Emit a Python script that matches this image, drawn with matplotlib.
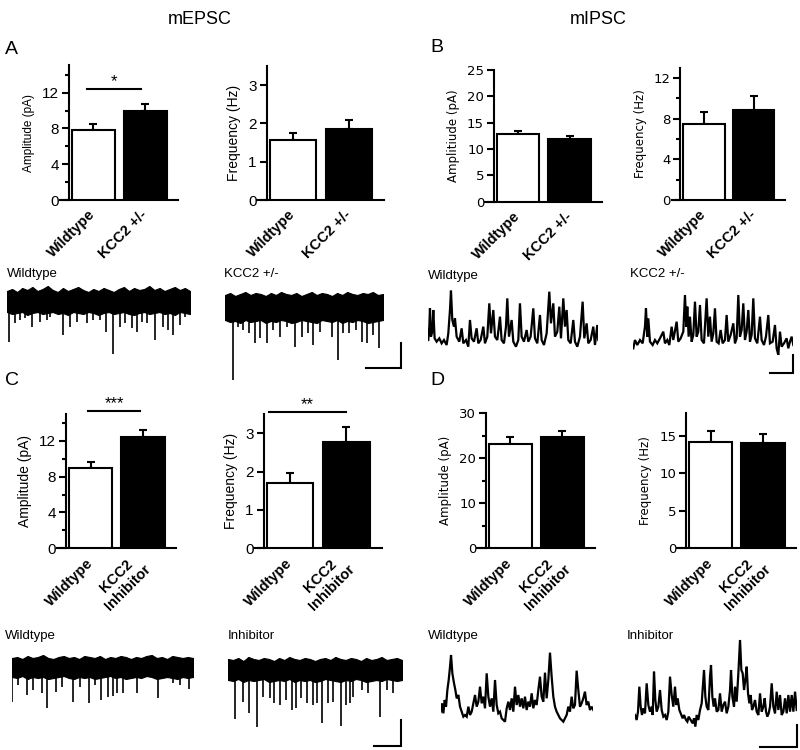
import numpy as np
import matplotlib
matplotlib.use("Agg")
import matplotlib.pyplot as plt

plt.rcParams['font.family'] = ['Liberation Sans', 'DejaVu Sans']

W, H = 800, 750

# ---------------- bar chart data ----------------
GROUPS_AB = ["Wildtype", "KCC2 +/-"]
GROUPS_CD = ["Wildtype", "KCC2\nInhibitor"]

A_AMP = [7.85, 10.0];   A_AMP_ERR = [0.65, 0.75]
A_FREQ = [1.57, 1.86];  A_FREQ_ERR = [0.19, 0.23]
B_AMP = [12.8, 11.85];  B_AMP_ERR = [0.6, 0.6]
B_FREQ = [7.45, 8.9];   B_FREQ_ERR = [1.2, 1.3]
C_AMP = [8.95, 12.4];   C_AMP_ERR = [0.7, 0.8]
C_FREQ = [1.71, 2.78];  C_FREQ_ERR = [0.25, 0.37]
D_AMP = [23.1, 24.6];   D_AMP_ERR = [1.6, 1.3]
D_FREQ = [14.1, 13.95]; D_FREQ_ERR = [1.5, 1.3]

# ---------------- mEPSC traces (events: time, amplitude pA) ----------------
AWT_EV_T = [2.3, 8, 13, 18, 24.7, 33, 39.7, 43, 56.3, 63, 70.3, 79.7, 86.3, 93, 99, 106.3,
            113, 118, 124.7, 129.7, 134.7, 139.7, 148, 156.3, 161.3, 166.3, 173, 178]
AWT_EV_A = [-41.7, -23.3, -20, -18.3, -26.7, -21.7, -20, -16.7, -35, -26.7, -21.7, -23.3, -20, -20,
            -31.7, -54, -26.7, -23.3, -28.3, -31.7, -21.7, -23.3, -40, -26.7, -30, -35, -25, -16.7]
AWT_HI = [9, 11, 8, 12, 10, 13, 9, 11, 14, 10, 8, 12, 9, 11, 13, 10, 8, 11, 9, 12, 10, 8, 11, 13,
          9, 12, 10, 11, 14, 10, 12, 9, 11, 13, 10, 12, 9]
AWT_LO = [-12, -14, -13, -12, -15, -13, -12, -14, -13, -12, -14, -13, -15, -12, -13, -14, -12, -13,
          -15, -13, -12, -14, -13, -12, -14, -15, -13, -12, -14, -13, -12, -14, -13, -15, -12, -13, -14]

AKO_EV_T = [8.3, 13.3, 18.3, 24.3, 30, 35, 41.7, 48.3, 55, 62.3, 70, 76.7, 83.3, 88.3, 95, 106.7,
            113.3, 118.3, 124.3, 131, 136.7, 141.7, 148.3, 154.3]
AKO_EV_A = [-73, -19.7, -23, -26.3, -36.3, -31.3, -36.3, -23, -29.7, -19.7, -39.7, -29.7, -26.3, -38,
            -24.7, -29.7, -53, -26.3, -26.3, -23, -34.7, -36.3, -28, -41.3]
AKO_HI = [12, 14, 11, 13, 15, 12, 14, 13, 11, 14, 12, 15, 13, 12, 14, 11, 13, 15, 12, 14, 13, 11,
          14, 12, 15, 13, 12, 14, 13, 15, 12, 13]
AKO_LO = [-13, -15, -14, -16, -13, -15, -14, -13, -16, -14, -15, -13, -14, -16, -15, -13, -14, -15,
          -16, -13, -14, -15, -13, -16, -14, -15, -13, -14, -16, -15, -14, -13]

CWT_EV_T = [0.3, 6.3, 15.3, 21.3, 29.7, 34.7, 44, 49.7, 60.7, 68, 77.3, 83, 88.7, 96.3, 101.3, 104.7,
            110.7, 124.7, 145.7, 161.3, 168, 177.3]
CWT_EV_A = [-34.7, -18, -28, -23, -26.3, -41.3, -24.7, -19.7, -34.7, -19.7, -35.7, -18, -33, -30.3,
            -29, -26.3, -26.3, -25.7, -31.3, -16.3, -18, -22.3]
CWT_HI = [9, 10, 8, 11, 9, 10, 12, 9, 8, 10, 11, 9, 10, 8, 11, 10, 9, 11, 8, 10, 9, 11, 10, 8, 10,
          9, 11, 12, 9, 10, 8, 11, 10, 9, 10, 9]
CWT_LO = [-10, -11, -9, -12, -10, -11, -10, -12, -11, -10, -9, -11, -12, -10, -11, -10, -12, -11,
          -10, -9, -11, -10, -12, -11, -10, -11, -9, -10, -12, -11, -10, -11, -12, -10, -11, -10]

CIN_EV_T = [7, 14.7, 21.3, 28.7, 35.3, 42, 46, 52, 57.7, 63.7, 68, 73, 78.7, 85.3, 88.7, 94, 100.3,
            105.3, 112.7, 118, 122, 125.3, 133.7, 140.3, 152, 158.7, 165.3]
CIN_EV_A = [-50.3, -32.7, -43.7, -58.3, -27.7, -29.3, -34.3, -36, -31, -41, -39.3, -29.3, -34.3, -36,
            -34.3, -54.3, -34.3, -32.7, -57, -36, -34.3, -27.7, -21, -24.3, -47.7, -21, -24.3]
CIN_HI = [10, 9, 11, 8, 12, 10, 9, 11, 10, 8, 11, 9, 12, 10, 9, 11, 10, 8, 10, 11, 9, 12, 10, 9, 11,
          10, 8, 11, 9, 10, 12, 9, 10, 11, 9]
CIN_LO = [-11, -12, -10, -13, -11, -12, -11, -10, -13, -12, -11, -12, -10, -13, -11, -12, -11, -13,
          -12, -10, -11, -12, -13, -11, -12, -10, -11, -13, -12, -11, -12, -10, -11, -12, -11]

# ---------------- mIPSC traces (time, current) ----------------
BWT_T = [85, 88, 90, 93, 97, 100, 104, 110, 118, 125, 132, 140, 145, 150, 153, 157, 162, 165, 170,
         178, 185, 190, 198, 205, 210, 215, 222, 230, 235, 242, 250, 255, 262, 268, 273, 280, 285,
         292, 300, 305, 312, 318, 322, 327, 335, 340, 348, 355, 360, 365, 372, 380, 385, 392, 400,
         405, 412, 420, 425, 432, 440, 448, 453, 460, 465, 472, 478, 483, 490, 495, 500, 505, 512,
         520, 525, 532, 540, 548, 553, 560, 565, 572, 580, 585, 592, 595]
BWT_I = [5, 45, 100, 15, 30, 95, 10, 0, 10, -5, 5, -10, 25, 95, 153, 65, 45, 70, 15, 0, 40, -5, 5,
         -15, 65, 10, 0, 40, -5, 5, 45, -5, 15, 115, 25, 95, 15, 5, 75, 5, -5, 45, 130, 15, 65, 0,
         -15, 5, 115, 15, 0, 35, 0, 15, 100, 10, -5, 80, 5, -10, 25, 150, 55, 115, 15, 30, 105, 10,
         130, 45, 95, 5, -5, 65, 0, -15, 15, 120, 10, 55, -5, 5, 45, -10, 50, 5]

BKO_T = [700, 705, 712, 720, 728, 735, 738, 742, 745, 750, 758, 765, 772, 780, 790, 795, 802, 808,
         815, 820, 830, 835, 842, 850, 855, 859, 862, 866, 870, 875, 880, 885, 890, 895, 900, 905,
         912, 920, 925, 930, 935, 940, 945, 950, 956, 962, 968, 975, 980, 985, 992, 1000, 1005,
         1010, 1015, 1020, 1025, 1030, 1035, 1040, 1045, 1050, 1055, 1060, 1065, 1072, 1080, 1085,
         1092, 1098, 1105, 1110, 1118, 1125, 1130, 1135, 1140, 1145, 1152, 1160, 1165, 1170, 1175,
         1180]
BKO_I = [-10, 15, 0, 15, 5, 55, 110, 25, 80, 10, 0, 15, 5, 20, 40, 5, 15, 0, 55, 15, 70, 10, 20, 40,
         150, 55, 115, 25, 85, 10, 30, 130, 25, 40, 120, 15, 5, 140, 25, 85, 10, 35, 110, 10, 5, 45,
         5, 15, 90, 10, 30, 65, 5, 20, 150, 25, 45, 125, 15, 40, 105, 10, 30, 140, 20, 5, 85, 15, 0,
         25, 90, 5, 10, 60, -10, -30, 40, -5, 5, 20, -10, 10, 25, 0]

DWT_T = [122, 126, 130, 134, 138, 142, 146, 150, 153, 157, 162, 166, 170, 175, 180, 185, 190, 195,
         200, 205, 210, 215, 220, 225, 230, 235, 240, 245, 250, 255, 260, 265, 270, 275, 280, 285,
         290, 295, 300, 305, 310, 315, 320, 325, 330, 335, 340, 345, 350, 355, 360, 365, 370, 375,
         380, 385, 390, 395, 400, 405, 410, 415, 420, 425, 430, 435, 440, 445, 450, 455, 460, 465,
         470, 475, 480, 485, 490, 495, 500, 505, 510, 515, 520, 525, 530, 535, 540, 545, 550, 555,
         560, 565, 570, 575, 580]
DWT_I = [25, 50, 20, 60, 40, 90, 120, 160, 195, 140, 110, 90, 65, 75, 40, 25, 10, 15, 10, 40, 15,
         25, 50, 75, 40, 55, 100, 50, 70, 35, 140, 70, 40, 65, 25, 120, 45, 20, 25, 5, 0, -5, 35,
         55, 30, 65, 25, 100, 45, 75, 40, 65, 35, 70, 30, 55, 40, 80, 35, 60, 45, 90, 130, 70, 55,
         142, 65, 120, 202, 130, 70, 40, 25, 15, 5, 0, -5, 5, 15, 40, 25, 70, 35, 45, 148, 90, 40,
         50, 65, 85, 45, 55, 30, 40, 30]

DIN_T = [705, 710, 714, 718, 722, 726, 730, 735, 740, 745, 750, 755, 758, 762, 766, 770, 775, 780,
         785, 790, 795, 800, 805, 810, 815, 820, 825, 829, 833, 838, 842, 848, 852, 858, 862, 866,
         872, 878, 882, 886, 890, 895, 900, 905, 912, 916, 920, 925, 930, 933, 937, 941, 945, 950,
         955, 960, 965, 970, 975, 980, 985, 990, 993, 997, 1002, 1005, 1010, 1015, 1020, 1024,
         1028, 1032, 1036, 1040, 1044, 1048, 1052, 1056, 1060, 1065, 1070, 1075, 1080, 1085, 1090,
         1094, 1098, 1102, 1106, 1110, 1115, 1120, 1125, 1130, 1135, 1140, 1145, 1150, 1155, 1160,
         1165, 1170, 1175, 1180, 1185, 1190]
DIN_I = [15, 0, 25, 100, 40, 15, 35, 20, 110, 45, 25, 40, 15, 145, 60, 25, 40, 90, 30, 10, 15, 0,
         25, 130, 75, 40, 100, 45, 65, 30, 20, 5, 15, 0, -5, 10, 0, -10, 5, -20, 15, 0, 30, 50, 150,
         70, 40, 30, 130, 165, 70, 40, 65, 25, 30, 80, 25, 45, 55, 20, 40, 90, 150, 70, 40, 100, 55,
         140, 240, 150, 140, 90, 120, 160, 80, 50, 75, 30, 40, 60, 25, 15, 80, 25, 40, 65, 25, 10,
         20, 40, 110, 40, 20, 85, 30, 75, 15, 25, 65, 20, 75, 25, 75, 25, 85, 30]

# scale bars (time units, current units)
SB_A = (35, 25)
SB_B = (69, 54)
SB_C = (27, 26)
SB_D = (110, 67)

fig = plt.figure(figsize=(W / 100, H / 100), dpi=100)


def add_px(x0, x1, y0, y1):
    return fig.add_axes([x0 / W, 1 - y1 / H, (x1 - x0) / W, (y1 - y0) / H])


POS = [0, 1]


def bar_panel(box, vals, errs, ylim, major, minor, ylabel, xlabels, fam, tfs, lfs, sig=None):
    ax = add_px(*box)
    ax.patch.set_alpha(0)
    ax.bar(POS, vals, width=0.83, color=['white', 'black'], edgecolor='black', linewidth=1.5, zorder=3)
    ax.errorbar(POS, vals, yerr=[[0, 0], errs], fmt='none', ecolor='black', elinewidth=1.5,
                capsize=3, capthick=1.5, zorder=2)
    ax.set_xlim(-0.64, 1.63)
    ax.set_ylim(*ylim)
    for s in ('top', 'right'):
        ax.spines[s].set_visible(False)
    ax.spines['left'].set_position(('data', -0.47))
    ax.spines['left'].set_bounds(ylim[0], ylim[1])
    for s in ('left', 'bottom'):
        ax.spines[s].set_linewidth(1.5)
    ax.set_yticks(major)
    ax.set_yticks(minor, minor=True)
    ax.tick_params(axis='y', which='major', direction='out', length=5, width=1.5, labelsize=tfs, pad=2)
    ax.tick_params(axis='y', which='minor', direction='out', length=3, width=1.5)
    for lab in ax.get_yticklabels():
        lab.set_family(fam)
    ax.set_xticks(POS)
    ax.set_xticklabels(xlabels, rotation=45, ha='right', va='center', rotation_mode='anchor',
                       fontweight='bold', fontsize=10.5, multialignment='center',
                       family='Liberation Sans')
    ax.tick_params(axis='x', length=0, pad=9)
    ax.set_ylabel(ylabel, fontsize=lfs, family=fam, labelpad=5)
    if sig:
        x0, x1, y, txt = sig
        ax.plot([x0, x1], [y, y], color='black', lw=1.5, clip_on=False)
        ax.text((x0 + x1) / 2, y, txt, ha='center', va='bottom', fontsize=12)
    return ax


SANS = 'Liberation Sans'
VERD = 'DejaVu Sans'

bar_panel((60, 178, 65, 200), A_AMP, A_AMP_ERR, (0, 15.1), [0, 4, 8, 12], [2, 6, 10, 14],
          'Amplitude (pA)', GROUPS_AB, SANS, 11, 8.5, sig=(-0.12, 0.91, 12.4, '*'))
bar_panel((257, 384, 66, 200), A_FREQ, A_FREQ_ERR, (0, 3.5), [0, 1, 2, 3], [],
          'Frequency (Hz)', GROUPS_AB, SANS, 11, 10)
bar_panel((485, 602, 70, 201.7), B_AMP, B_AMP_ERR, (0, 25), [0, 5, 10, 15, 20, 25], [],
          'Amplitiude (pA)', GROUPS_AB, VERD, 9.5, 8.5)
bar_panel((672, 785, 68, 200), B_FREQ, B_FREQ_ERR, (0, 13), [0, 4, 8, 12], [2, 6, 10],
          'Frequency (Hz)', GROUPS_AB, VERD, 9.5, 8.5)
bar_panel((57, 176, 414, 548.3), C_AMP, C_AMP_ERR, (0, 15), [0, 4, 8, 12], [2, 6, 10, 14],
          'Amplitude (pA)', GROUPS_CD, SANS, 11, 10, sig=(-0.04, 0.94, 15.3, '***'))
bar_panel((254, 382, 414, 548.3), C_FREQ, C_FREQ_ERR, (0, 3.5), [0, 1, 2, 3], [],
          'Frequency (Hz)', GROUPS_CD, SANS, 11, 10, sig=(-0.38, 1.0, 3.56, '**'))
bar_panel((477, 595, 413, 548.3), D_AMP, D_AMP_ERR, (0, 30), [0, 10, 20, 30], [5, 15, 25],
          'Amplitude (pA)', GROUPS_CD, VERD, 9.5, 8.5)
bar_panel((677, 796, 413, 548.3), D_FREQ, D_FREQ_ERR, (0, 18), [0, 5, 10, 15], [],
          'Frequency (Hz)', GROUPS_CD, VERD, 9.5, 8.5)


def epsc_trace(box, xlim, ylim, hi, lo, ev_t, ev_a):
    ax = add_px(*box)
    ax.axis('off')
    ax.set_xlim(*xlim)
    ax.set_ylim(*ylim)
    te = np.linspace(xlim[0], xlim[1], len(hi))
    ax.fill_between(te, lo, hi, color='black', lw=0.8)
    ax.vlines(te, lo, hi, color='black', lw=1.0)
    ax.vlines(ev_t, 0, ev_a, color='black', lw=1.2)
    return ax


def ipsc_trace(box, xlim, ylim, t, i):
    ax = add_px(*box)
    ax.axis('off')
    ax.set_xlim(*xlim)
    ax.set_ylim(*ylim)
    ax.plot(t, i, color='black', lw=1.6, solid_joinstyle='miter')
    return ax


epsc_trace((7, 190, 282, 360), (0, 183), (-60, 18), AWT_HI, AWT_LO, AWT_EV_T, AWT_EV_A)
axa = epsc_trace((225, 383, 285, 385), (0, 158), (-78, 22), AKO_HI, AKO_LO, AKO_EV_T, AKO_EV_A)
epsc_trace((12, 193, 650, 715), (0, 181), (-48, 17), CWT_HI, CWT_LO, CWT_EV_T, CWT_EV_A)
axc = epsc_trace((228, 402, 650, 735), (0, 174), (-66, 19), CIN_HI, CIN_LO, CIN_EV_T, CIN_EV_A)
ipsc_trace((428.3, 598.3, 285, 355), (85, 595), (-40, 170), BWT_T, BWT_I)
axb = ipsc_trace((633.3, 793.3, 285, 355), (700, 1180), (-30, 180), BKO_T, BKO_I)
ipsc_trace((440.7, 593.3, 635, 730), (122, 580), (-30, 255), DWT_T, DWT_I)
axd = ipsc_trace((635, 796.7, 635, 730), (705, 1190), (-30, 255), DIN_T, DIN_I)


def scale_bar(ax, x_end, y0, size):
    dx, dy = size
    ax.plot([x_end - dx, x_end, x_end], [y0, y0, y0 + dy], color='black', lw=1.5,
            clip_on=False, solid_joinstyle='miter')


scale_bar(axa, 176, -61, SB_A)
scale_bar(axb, 1179, -84, SB_B)
scale_bar(axc, 173, -77, SB_C)
scale_bar(axd, 1190, -82, SB_D)


def ftext(x, y, s, **kw):
    fig.text(x / W, 1 - y / H, s, **kw)


ftext(200, 20, 'mEPSC', ha='center', va='center', fontsize=13)
ftext(598, 20, 'mIPSC', ha='center', va='center', fontsize=13)
for (x, y, s) in [(5, 49, 'A'), (430, 48, 'B'), (5, 380, 'C'), (430, 380, 'D')]:
    ftext(x, y, s, ha='left', va='center', fontsize=14)

for (x, y, s) in [(7, 274, 'Wildtype'), (224, 274, 'KCC2 +/-'), (428, 276, 'Wildtype'),
                  (630, 274, 'KCC2 +/-'), (5, 636, 'Wildtype'), (228, 636, 'Inhibitor'),
                  (428, 636, 'Wildtype'), (627, 636, 'Inhibitor')]:
    ftext(x, y, s, ha='left', va='center', fontsize=9.5)

fig.savefig('out.png', dpi=100)
